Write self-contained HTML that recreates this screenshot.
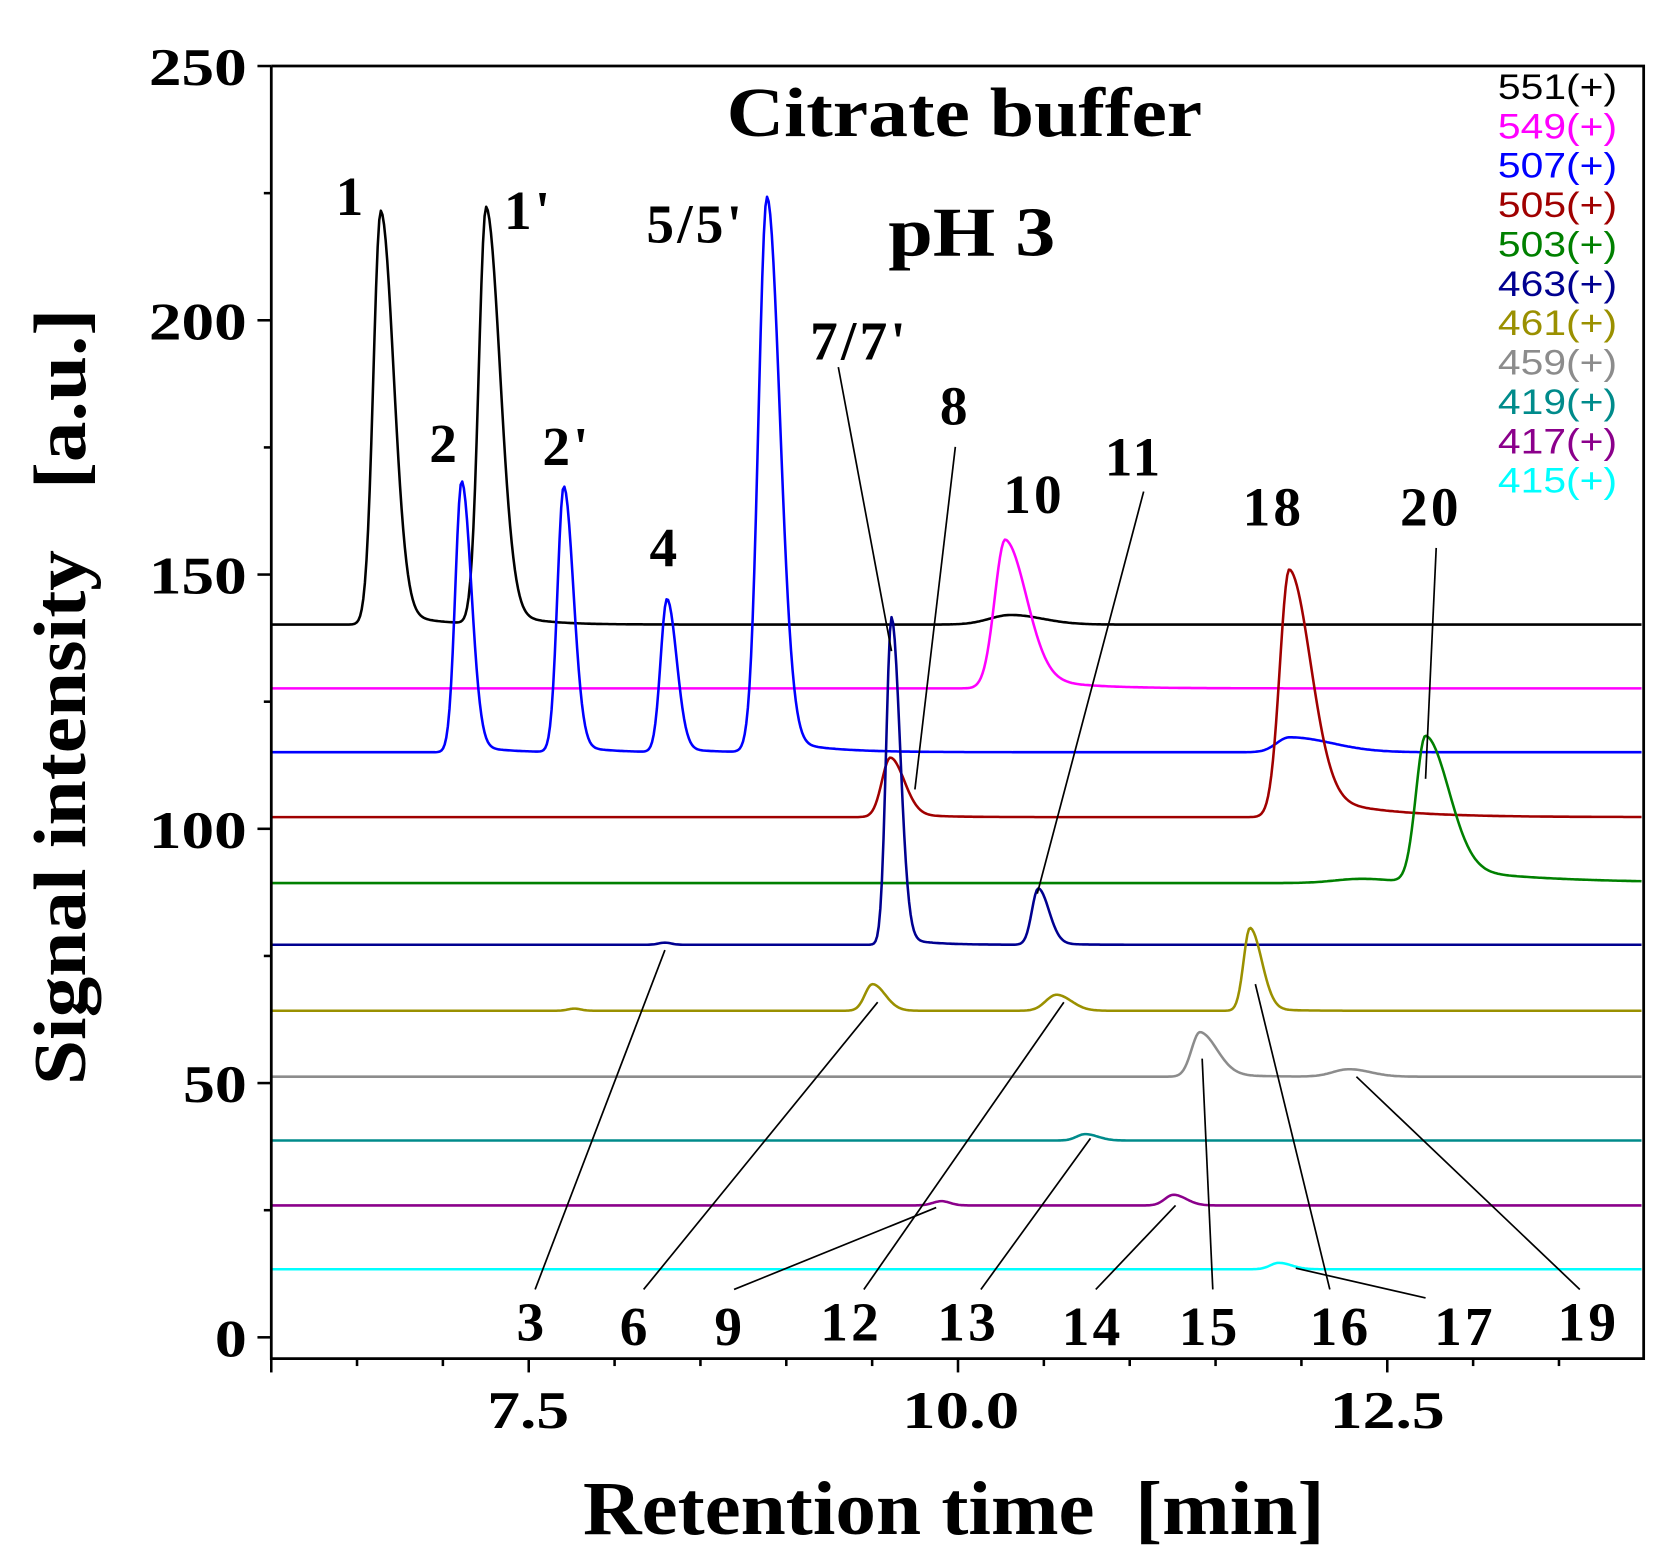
<!DOCTYPE html>
<html><head><meta charset="utf-8"><style>
html,body{margin:0;padding:0;background:#fff}
svg{display:block}
.t{font-family:"Liberation Serif",serif;font-weight:bold;fill:#000}
.lg{font-family:"Liberation Sans",sans-serif;font-size:33px}
</style></head><body>
<svg id="s" width="1666" height="1564" viewBox="0 0 1566 1470" xmlns="http://www.w3.org/2000/svg">
<rect x="0" y="0" width="1566" height="1470" fill="#fff"/>
<g id="curves" fill="none" stroke-width="2.4" stroke-linejoin="round"></g>
<g stroke="#000" stroke-width="1.6" fill="none">
<line x1="788" y1="345" x2="838" y2="612"/>
<line x1="898" y1="420" x2="860" y2="742"/>
<line x1="1075" y1="462" x2="975" y2="840"/>
<line x1="1350" y1="515" x2="1340" y2="732"/>
<line x1="503" y1="1212" x2="625" y2="893"/>
<line x1="605" y1="1212" x2="825" y2="942"/>
<line x1="690" y1="1212" x2="880" y2="1135"/>
<line x1="812" y1="1212" x2="1000" y2="942"/>
<line x1="922" y1="1212" x2="1025" y2="1070"/>
<line x1="1030" y1="1212" x2="1105" y2="1133"/>
<line x1="1140" y1="1212" x2="1130" y2="995"/>
<line x1="1250" y1="1212" x2="1180" y2="925"/>
<line x1="1340" y1="1220" x2="1218" y2="1192"/>
<line x1="1485" y1="1212" x2="1275" y2="1012"/>
</g>
<g stroke="#000" stroke-width="2.6" fill="none">
<polyline points="255,62 1545,62 1545,1277 255,1277 255,62"/>
</g>
<g id="ticks" stroke="#000" stroke-width="2.4"></g>
<g class="t" font-size="50" text-anchor="end" lengthAdjust="spacingAndGlyphs">
<text x="232" y="80" textLength="92" lengthAdjust="spacingAndGlyphs">250</text>
<text x="232" y="319" textLength="92" lengthAdjust="spacingAndGlyphs">200</text>
<text x="232" y="558" textLength="92" lengthAdjust="spacingAndGlyphs">150</text>
<text x="232" y="797" textLength="92" lengthAdjust="spacingAndGlyphs">100</text>
<text x="232" y="1036" textLength="60" lengthAdjust="spacingAndGlyphs">50</text>
<text x="232" y="1275" textLength="30" lengthAdjust="spacingAndGlyphs">0</text>
</g>
<g class="t" font-size="50">
<text x="458" y="1342" textLength="77" lengthAdjust="spacingAndGlyphs">7.5</text>
<text x="848" y="1342" textLength="110" lengthAdjust="spacingAndGlyphs">10.0</text>
<text x="1250" y="1342" textLength="108" lengthAdjust="spacingAndGlyphs">12.5</text>
</g>
<text class="t" font-size="72" x="548" y="1442" textLength="697" lengthAdjust="spacingAndGlyphs" xml:space="preserve">Retention time  [min]</text>
<text class="t" font-size="70" x="0" y="0" textLength="730" lengthAdjust="spacingAndGlyphs" text-anchor="middle" transform="translate(80,655) rotate(-90)" xml:space="preserve">Signal intensity   [a.u.]</text>
<text class="t" font-size="66" x="683" y="128" textLength="447" lengthAdjust="spacingAndGlyphs">Citrate buffer</text>
<text class="t" font-size="66" x="835" y="240" textLength="157" lengthAdjust="spacingAndGlyphs">pH 3</text>
<g class="t" font-size="52" text-anchor="middle" letter-spacing="3">
<text x="330" y="202">1</text><text x="497" y="215">1'</text><text x="418" y="434">2</text><text x="533" y="437">2'</text>
<text x="625" y="532">4</text><text x="654" y="228">5/5'</text><text x="808" y="338">7/7'</text><text x="898" y="399">8</text>
<text x="972" y="482">10</text><text x="1066" y="447">11</text><text x="1197" y="494">18</text><text x="1345" y="494">20</text>
<text x="500" y="1260">3</text><text x="597" y="1264">6</text><text x="686" y="1264">9</text><text x="800" y="1260">12</text>
<text x="910" y="1260">13</text><text x="1027" y="1264">14</text><text x="1137" y="1264">15</text><text x="1260" y="1264">16</text>
<text x="1377" y="1264">17</text><text x="1493" y="1260">19</text>
</g>
<g class="lg">
<text x="1408" y="93" fill="#000" textLength="112" lengthAdjust="spacingAndGlyphs">551(+)</text>
<text x="1408" y="130" fill="#ff00ff" textLength="112" lengthAdjust="spacingAndGlyphs">549(+)</text>
<text x="1408" y="167" fill="#0000ff" textLength="112" lengthAdjust="spacingAndGlyphs">507(+)</text>
<text x="1408" y="204" fill="#a00000" textLength="112" lengthAdjust="spacingAndGlyphs">505(+)</text>
<text x="1408" y="241" fill="#008000" textLength="112" lengthAdjust="spacingAndGlyphs">503(+)</text>
<text x="1408" y="278" fill="#000090" textLength="112" lengthAdjust="spacingAndGlyphs">463(+)</text>
<text x="1408" y="315" fill="#9a9000" textLength="112" lengthAdjust="spacingAndGlyphs">461(+)</text>
<text x="1408" y="352" fill="#8c8c8c" textLength="112" lengthAdjust="spacingAndGlyphs">459(+)</text>
<text x="1408" y="389" fill="#008b8b" textLength="112" lengthAdjust="spacingAndGlyphs">419(+)</text>
<text x="1408" y="426" fill="#8b008b" textLength="112" lengthAdjust="spacingAndGlyphs">417(+)</text>
<text x="1408" y="463" fill="#00ffff" textLength="112" lengthAdjust="spacingAndGlyphs">415(+)</text>
</g>
</svg>
<script>
(function(){
var NS="http://www.w3.org/2000/svg";
var S=[
{c:"#000",b:587,p:[[358,389,7,12,0.05,30],[457,392,7,13,0.05,30],[950,9,20,30,0,1]]},
{c:"#ff00ff",b:647,p:[[945,140,10,20,0.12,45]]},
{c:"#0000ff",b:707,p:[[434,255,6,9,0.04,25],[530,250,6,9,0.04,25],[627,144,6,9,0.04,25],[721,522,8,12,0.03,40],[1212,14,12,40,0,1]]},
{c:"#a00000",b:768,p:[[837,56,8,13,0.08,30],[1212,233,9,20,0.12,60]]},
{c:"#008000",b:830,p:[[1340,138,9,22,0.12,90],[1280,4,25,30,0,1]]},
{c:"#000090",b:888,p:[[838,308,5,8,0.03,25],[976,53,6,10,0.05,20],[625,2,6,6,0,1]]},
{c:"#9a9000",b:950,p:[[820,25,7,12,0,1],[993,15,10,14,0,1],[1175,78,6,11,0.05,20],[540,2,6,6,0,1]]},
{c:"#8c8c8c",b:1012,p:[[1128,42,8,16,0.1,30],[1268,7,15,20,0,1]]},
{c:"#008b8b",b:1072,p:[[1020,6,8,12,0,1]]},
{c:"#8b008b",b:1133,p:[[885,4,8,8,0,1],[1103,10,8,12,0,1]]},
{c:"#00ffff",b:1193,p:[[1202,6,8,12,0,1]]}
];
var g=document.getElementById("curves");
S.forEach(function(s){
 var d="";
 for(var x=256;x<=1544;x+=1.5){
  var v=0;
  s.p.forEach(function(p){
   var dx=x-p[0];
   if(dx<0){v+=p[1]*Math.exp(-dx*dx/(2*p[2]*p[2]));}
   else{v+=p[1]*((1-p[4])*Math.exp(-dx*dx/(2*p[3]*p[3]))+p[4]*Math.exp(-dx/p[5]));}
  });
  d+=(d?"L":"M")+x.toFixed(1)+","+(s.b-v).toFixed(1);
 }
 var e=document.createElementNS(NS,"path");
 e.setAttribute("d",d);e.setAttribute("stroke",s.c);g.appendChild(e);
});
var t=document.getElementById("ticks");
function ln(a,b,c,d){var e=document.createElementNS(NS,"line");e.setAttribute("x1",a);e.setAttribute("y1",b);e.setAttribute("x2",c);e.setAttribute("y2",d);t.appendChild(e);}
for(var i=-2;i<=12;i++){var x=497+i*80.7;if(x<256||x>1546)continue;var major=(i%5==0);ln(x,1277,x,major?1290:1284);}
ln(255,1277,255,1290);
for(var v=0;v<=250;v+=25){var y=1257-4.78*v;ln(255,y,(v%50==0)?242:248,y);}
})();
</script>
</body></html>
